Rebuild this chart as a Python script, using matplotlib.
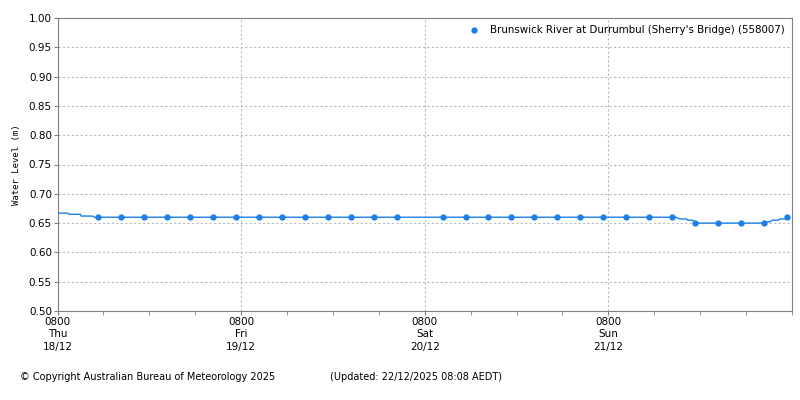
import matplotlib
matplotlib.use("Agg")
import matplotlib.pyplot as plt
from matplotlib.ticker import MultipleLocator

# hours after 0800 Thu 18/12
line_hours = [0, 1.4, 1.5, 3.0, 3.1, 4.6, 4.8, 80.8, 81.4, 82.2, 82.4, 83.0, 83.4,
              92.3, 92.7, 93.1, 93.4, 94.2, 94.4, 95.0, 95.4]
line_level = [0.667, 0.667, 0.665, 0.665, 0.662, 0.662, 0.66, 0.66, 0.657, 0.657, 0.655, 0.655, 0.65,
              0.65, 0.652, 0.652, 0.655, 0.655, 0.657, 0.657, 0.66]

point_hours = [5.33, 8.33, 11.33, 14.33, 17.33, 20.33, 23.33, 26.33, 29.33, 32.33,
               35.33, 38.33, 41.33, 44.33, 50.33, 53.33, 56.33, 59.33, 62.33, 65.33,
               68.33, 71.33, 74.33, 77.33, 80.33, 83.33, 86.33, 89.33, 92.33, 95.33]
point_level = [0.66] * 25 + [0.65] * 4 + [0.66]

day_ticks = [0, 24, 48, 72]
day_labels = ["0800\nThu\n18/12", "0800\nFri\n19/12", "0800\nSat\n20/12", "0800\nSun\n21/12"]

station = "Brunswick River at Durrumbul (Sherry's Bridge) (558007)"

blue = "#1a7fe6"
fig = plt.figure(figsize=(8, 4), dpi=100)
ax = fig.add_axes([0.0719, 0.2225, 0.9181, 0.7325])

ax.plot(line_hours, line_level, color=blue, lw=1)
ax.plot(point_hours, point_level, "o", color=blue, ms=3.5, label=station)

ax.set_xlim(0, 96)
ax.set_ylim(0.5, 1.0)
ax.yaxis.set_major_locator(MultipleLocator(0.05))
ax.yaxis.set_major_formatter(plt.FormatStrFormatter("%.2f"))
ax.set_xticks(day_ticks)
ax.set_xticklabels(day_labels, linespacing=1.35)
ax.xaxis.set_minor_locator(MultipleLocator(6))
ax.tick_params(axis="both", which="both", length=3, color="#808080", labelsize=7.5, pad=1)
ax.grid(True, which="major", ls=(0, (2, 2)), color="#bbbbbb", lw=0.8)
for s in ax.spines.values():
    s.set_color("#808080")

ax.set_ylabel("Water Level (m)", family="DejaVu Sans Mono", fontsize=6.5, labelpad=6)

ax.legend(loc="upper right", frameon=False, fontsize=7.4, handletextpad=1.1,
          markerscale=1.0, borderaxespad=0.3, handlelength=1.0)

fig.text(0.025, 0.05, "\u00a9 Copyright Australian Bureau of Meteorology 2025", fontsize=7)
fig.text(0.412, 0.05, "(Updated: 22/12/2025 08:08 AEDT)", fontsize=7)

fig.savefig("out.png", dpi=100)
